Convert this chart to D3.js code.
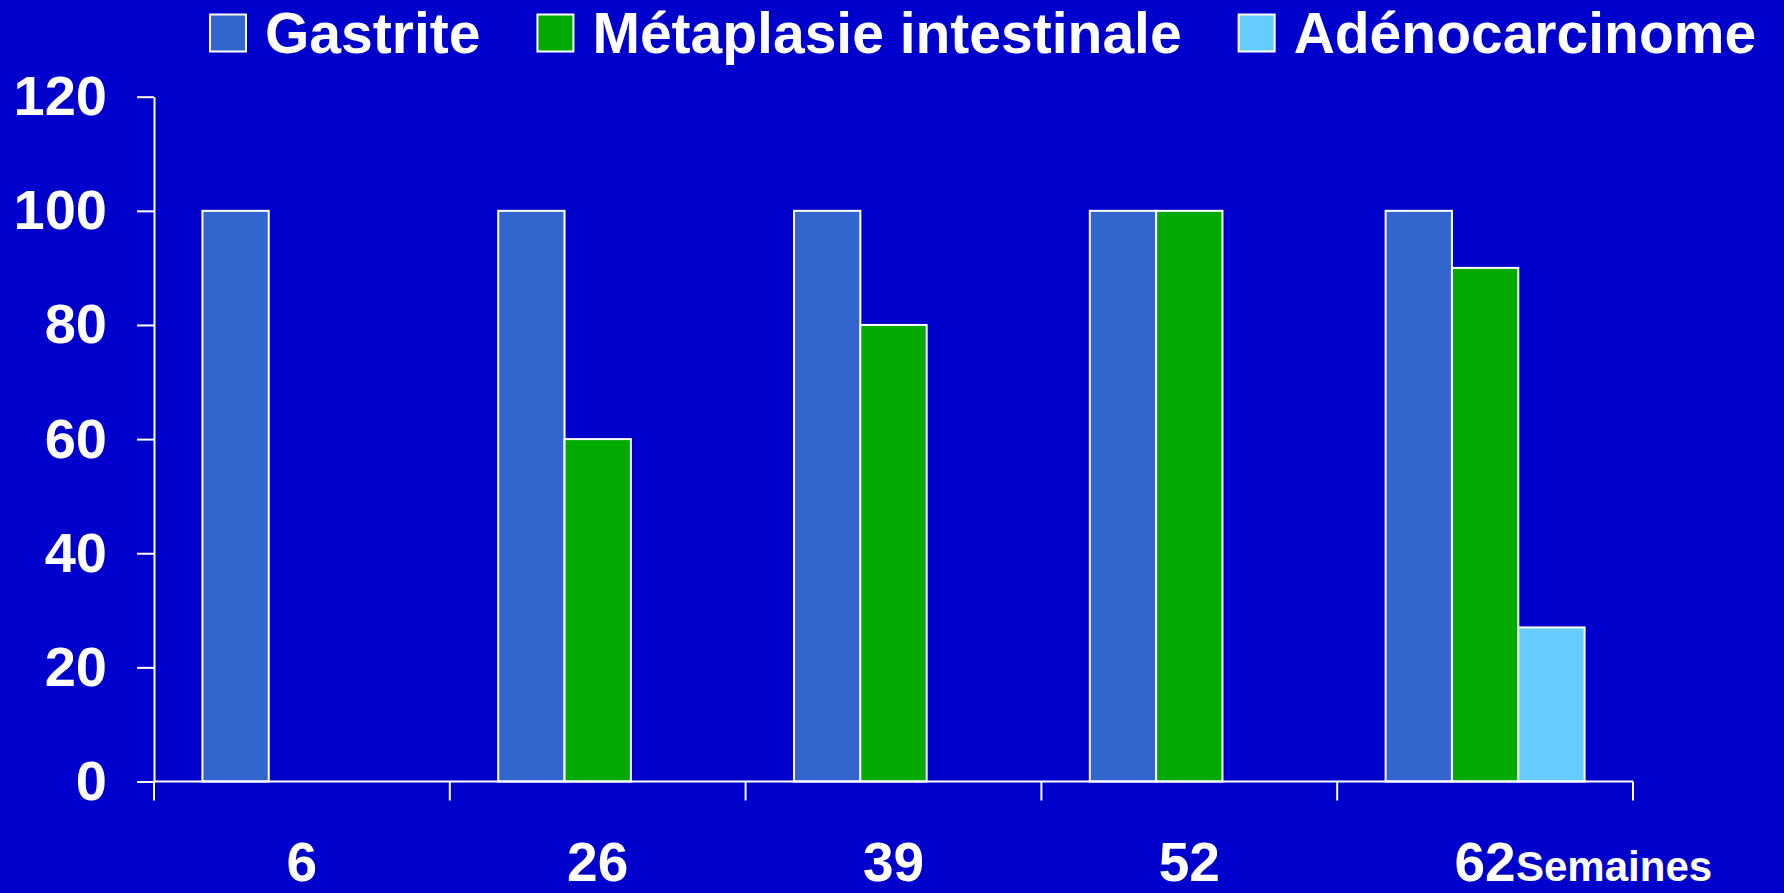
<!DOCTYPE html>
<html>
<head>
<meta charset="utf-8">
<script src="https://cdn.jsdelivr.net/npm/d3@7"></script>
<style>
  html, body { margin: 0; padding: 0; background: #0000CC; }
  svg { display: block; }
  text { font-family: "Liberation Sans", Arial, sans-serif; font-weight: bold; fill: #ffffff; }
</style>
</head>
<body>
<svg id="chart" width="1784" height="893"></svg>
<script>
const categories = ["6", "26", "39", "52", "62"];
const seriesNames = ["Gastrite", "Métaplasie intestinale", "Adénocarcinome"];
const gastrite = [100, 100, 100, 100, 100];
const metaplasie = [0, 60, 80, 100, 90];
const adenocarcinome = [0, 0, 0, 0, 27];
const yTicks = [0, 20, 40, 60, 80, 100, 120];
const xAxisTitle = "Semaines";
const colors = ["#3366CC", "#00AA00", "#66CCFF"];

const seriesValues = [gastrite, metaplasie, adenocarcinome];
const data = categories.map((c, i) => ({
  cat: c,
  values: seriesNames.map((s, j) => ({ series: s, value: seriesValues[j][i], color: colors[j] }))
}));

const svg = d3.select("#chart");
svg.append("rect").attr("width", 1784).attr("height", 893).attr("fill", "#0000CC");

const x0 = d3.scaleBand().domain(categories).range([154, 1633]).padding(0);
const x1 = d3.scaleBand().domain(seriesNames).range([0, x0.bandwidth()]).paddingInner(0).paddingOuter(0.73);
const y = d3.scaleLinear().domain([0, 120]).range([781.5, 96.7]);

// Bars
const groups = svg.append("g").selectAll("g").data(data).join("g")
  .attr("transform", d => `translate(${x0(d.cat)},0)`);
groups.selectAll("rect").data(d => d.values.filter(v => v.value > 0)).join("rect")
  .attr("x", d => x1(d.series))
  .attr("width", x1.bandwidth())
  .attr("y", d => y(d.value))
  .attr("height", d => y(0) - y(d.value))
  .attr("fill", d => d.color)
  .attr("stroke", "#ffffff")
  .attr("stroke-width", 2);

// Y axis
const yAxis = d3.axisLeft(y).tickValues(yTicks).tickSize(17).tickSizeOuter(0).tickPadding(30);
const gy = svg.append("g").attr("transform", "translate(154,0)").call(yAxis);
gy.select(".domain").attr("stroke", "#fff").attr("stroke-width", 2);
gy.selectAll(".tick line").attr("stroke", "#fff").attr("stroke-width", 2);
gy.selectAll(".tick text").attr("fill", "#fff").attr("font-size", 56)
  .attr("font-family", "Liberation Sans, Arial, sans-serif").attr("font-weight", "bold");

// X axis line and ticks at band boundaries
const gx = svg.append("g");
gx.append("line").attr("x1", x0.range()[0]).attr("x2", x0.range()[1])
  .attr("y1", y(0)).attr("y2", y(0)).attr("stroke", "#fff").attr("stroke-width", 2);
const edges = categories.map(c => x0(c)).concat([x0.range()[1]]);
gx.selectAll(".xt").data(edges).join("line").attr("class", "xt")
  .attr("x1", d => d).attr("x2", d => d)
  .attr("y1", y(0)).attr("y2", y(0) + 19)
  .attr("stroke", "#fff").attr("stroke-width", 2);
gx.selectAll(".xl").data(categories).join("text").attr("class", "xl")
  .attr("x", d => x0(d) + x0.bandwidth() / 2)
  .attr("y", 881)
  .attr("text-anchor", "middle")
  .attr("font-size", 55)
  .text(d => d);

// Axis title
svg.append("text").attr("x", 1516).attr("y", 881).attr("font-size", 42).text(xAxisTitle);

// Legend
const legend = svg.append("g");
let lx = 210;
seriesNames.forEach((s, i) => {
  legend.append("rect").attr("x", lx).attr("y", 14.5).attr("width", 36).attr("height", 37)
    .attr("fill", colors[i]).attr("stroke", "#fff").attr("stroke-width", 2);
  const t = legend.append("text").attr("x", lx + 55).attr("y", 53).attr("font-size", 57).text(s);
  const w = t.node().getComputedTextLength();
  lx = lx + 55 + w + 57;
});
</script>
</body>
</html>
